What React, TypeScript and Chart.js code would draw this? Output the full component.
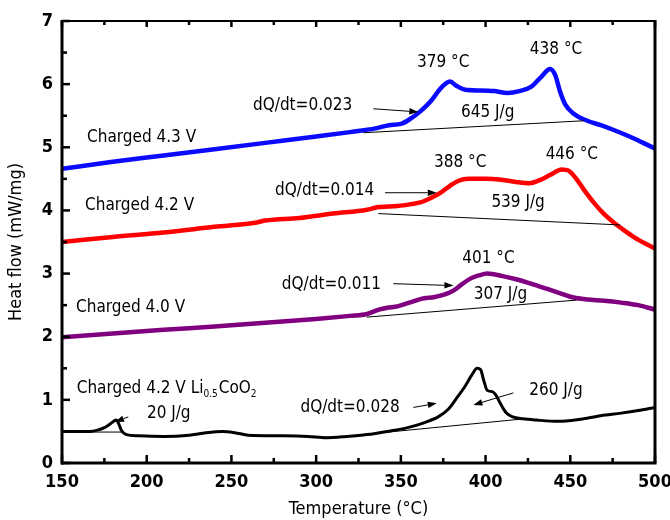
import React, { useEffect, useRef } from 'react';
import { Chart, registerables } from 'chart.js';
Chart.register(...registerables);

const FONT = "'DejaVu Sans Condensed', 'Liberation Sans Narrow', 'DejaVu Sans', sans-serif";

// ---- Data ----
const temp43 = [150, 180, 210, 240, 270, 300, 320, 335, 343, 350, 355, 362, 368, 373, 377, 379, 383, 388, 397, 405, 413, 420, 427, 433, 438, 441, 444, 447, 452, 460, 468, 476, 485, 493, 500];
const heat43 = [4.66, 4.77, 4.87, 4.97, 5.07, 5.17, 5.24, 5.30, 5.35, 5.37, 5.44, 5.58, 5.74, 5.92, 6.02, 6.04, 5.97, 5.91, 5.90, 5.89, 5.86, 5.89, 5.96, 6.12, 6.24, 6.15, 5.88, 5.68, 5.53, 5.42, 5.35, 5.27, 5.17, 5.07, 4.98];

const temp42 = [150, 180, 210, 240, 265, 270, 290, 310, 330, 336, 348, 356, 362, 368, 374, 379, 384, 390, 400, 408, 418, 426, 432, 438, 445, 449, 453, 458, 464, 470, 476, 482, 488, 494, 500];
const heat42 = [3.50, 3.58, 3.65, 3.74, 3.81, 3.84, 3.88, 3.95, 4.01, 4.05, 4.07, 4.10, 4.13, 4.20, 4.29, 4.39, 4.47, 4.50, 4.50, 4.49, 4.45, 4.43, 4.48, 4.56, 4.65, 4.63, 4.52, 4.33, 4.12, 3.94, 3.80, 3.68, 3.57, 3.48, 3.40];

const temp40 = [150, 180, 210, 240, 270, 300, 320, 330, 337, 342, 348, 355, 362, 370, 376, 381, 386, 391, 396, 401, 410, 418, 428, 436, 445, 452, 460, 470, 480, 490, 500];
const heat40 = [1.99, 2.05, 2.11, 2.16, 2.22, 2.28, 2.33, 2.36, 2.43, 2.46, 2.48, 2.54, 2.60, 2.63, 2.67, 2.73, 2.83, 2.92, 2.97, 3.00, 2.96, 2.91, 2.83, 2.76, 2.68, 2.62, 2.59, 2.57, 2.54, 2.50, 2.43];

const tempLi = [150, 160, 166, 171, 175, 179, 182, 183.5, 185, 188, 195, 210, 225, 235, 245, 252, 260, 280, 295, 306, 318, 330, 342, 354, 364, 372, 378, 383, 388, 392, 395, 397, 399, 401, 404, 406, 409, 412, 416, 422, 430, 443, 455, 468, 480, 490, 500];
const heatLi = [0.50, 0.50, 0.50, 0.52, 0.56, 0.63, 0.68, 0.62, 0.52, 0.45, 0.43, 0.42, 0.44, 0.48, 0.50, 0.48, 0.44, 0.43, 0.42, 0.40, 0.42, 0.45, 0.50, 0.56, 0.64, 0.73, 0.85, 1.03, 1.22, 1.40, 1.50, 1.48, 1.30, 1.15, 1.13, 1.08, 0.93, 0.80, 0.73, 0.70, 0.68, 0.66, 0.69, 0.75, 0.79, 0.83, 0.88];

// integration baselines: [T1, V1, T2, V2]
const baseline43 = [327.8, 5.23, 457.7, 5.42];
const baseline42 = [336.7, 3.95, 479.4, 3.77];
const baseline40 = [329.9, 2.31, 453.7, 2.58];
const baselineLiA = [165, 0.49, 186, 0.49];
const baselineLiB = [335, 0.47, 423, 0.70];

const xMajor = [150, 200, 250, 300, 350, 400, 450, 500];
const xMinor = [175, 225, 275, 325, 375, 425, 475];
const yMajor = [0, 1, 2, 3, 4, 5, 6, 7];
const yMinor = [0.5, 1.5, 2.5, 3.5, 4.5, 5.5, 6.5];

// annotation texts: [text, T, V, align]
const labels: [string, number, number, string][] = [
  ['379 °C', 375, 6.34, 'center'],
  ['438 °C', 441.6, 6.55, 'center'],
  ['dQ/dt=0.023', 292, 5.66, 'center'],
  ['645 J/g', 401.3, 5.55, 'center'],
  ['Charged 4.3 V', 164.8, 5.15, 'left'],
  ['388 °C', 385, 4.75, 'center'],
  ['446 °C', 450.9, 4.89, 'center'],
  ['dQ/dt=0.014', 305, 4.31, 'center'],
  ['539 J/g', 419.2, 4.13, 'center'],
  ['Charged 4.2 V', 163.6, 4.07, 'left'],
  ['401 °C', 401.7, 3.23, 'center'],
  ['dQ/dt=0.011', 309, 2.83, 'center'],
  ['307 J/g', 408.8, 2.66, 'center'],
  ['Charged 4.0 V', 158.3, 2.46, 'left'],
  ['20 J/g', 213, 0.78, 'center'],
  ['dQ/dt=0.028', 320, 0.88, 'center'],
  ['260 J/g', 441.5, 1.14, 'center'],
];
const liLabelPos = [158.7, 1.18];

// arrows: [T_from, V_from, T_to, V_to]
const arrows = [
  [333.8, 5.61, 360.3, 5.56],
  [340.7, 4.28, 371.2, 4.28],
  [345.6, 2.84, 381, 2.81],
  [189.1, 0.73, 181.3, 0.65],
  [357.4, 0.88, 371.2, 0.945],
  [416.4, 1.11, 392.8, 0.92],
];

const toXY = (t: number[], v: number[]) => t.map((x, i) => ({ x, y: v[i] }));
const seg = (b: number[]) => [{ x: b[0], y: b[1] }, { x: b[2], y: b[3] }];

const decor = {
  id: 'decor',
  afterDraw(chart: any) {
    const { ctx, chartArea, scales } = chart;
    const { left, right, top, bottom } = chartArea;
    const xs = scales.x, ys = scales.y;
    ctx.save();
    ctx.strokeStyle = '#000';
    ctx.lineCap = 'butt';
    ctx.lineWidth = 2.5;
    const tick = (x1: number, y1: number, x2: number, y2: number) => {
      ctx.beginPath(); ctx.moveTo(x1, y1); ctx.lineTo(x2, y2); ctx.stroke();
    };
    xMajor.forEach(t => { const p = xs.getPixelForValue(t); tick(p, bottom, p, bottom - 8); tick(p, top, p, top + 6); });
    xMinor.forEach(t => { const p = xs.getPixelForValue(t); tick(p, bottom, p, bottom - 5); tick(p, top, p, top + 4); });
    yMajor.forEach(v => { const p = ys.getPixelForValue(v); tick(left, p, left + 8, p); });
    yMinor.forEach(v => { const p = ys.getPixelForValue(v); tick(left, p, left + 5, p); });
    ctx.lineWidth = 2;
    ctx.strokeRect(left, top, right - left, bottom - top);
    ctx.lineWidth = 3;
    tick(left, top - 1, left, bottom + 1.5);
    tick(left - 1, bottom, right + 1.5, bottom);
    tick(right, top - 1, right, bottom);

    ctx.lineWidth = 1;
    ctx.fillStyle = '#000';
    arrows.forEach(a => {
      const x1 = xs.getPixelForValue(a[0]), y1 = ys.getPixelForValue(a[1]);
      const x2 = xs.getPixelForValue(a[2]), y2 = ys.getPixelForValue(a[3]);
      const ang = Math.atan2(y2 - y1, x2 - x1);
      const hl = 9, hw = 3.2;
      const bx = x2 - hl * Math.cos(ang), by = y2 - hl * Math.sin(ang);
      ctx.beginPath(); ctx.moveTo(x1, y1); ctx.lineTo(bx, by); ctx.stroke();
      ctx.beginPath();
      ctx.moveTo(x2, y2);
      ctx.lineTo(bx + hw * Math.sin(ang), by - hw * Math.cos(ang));
      ctx.lineTo(bx - hw * Math.sin(ang), by + hw * Math.cos(ang));
      ctx.closePath(); ctx.fill();
    });

    ctx.fillStyle = '#000';
    ctx.textBaseline = 'middle';
    ctx.font = `17px ${FONT}`;
    labels.forEach(([txt, t, v, al]) => {
      ctx.textAlign = al;
      ctx.fillText(txt, xs.getPixelForValue(t), ys.getPixelForValue(v));
    });
    let lx = xs.getPixelForValue(liLabelPos[0]);
    const ly = ys.getPixelForValue(liLabelPos[1]);
    ctx.textAlign = 'left';
    const parts: [string, boolean][] = [['Charged 4.2 V Li', false], ['0.5', true], ['CoO', false], ['2', true]];
    parts.forEach(([s, sub]) => {
      ctx.font = sub ? `10px ${FONT}` : `17px ${FONT}`;
      ctx.fillText(s, lx, sub ? ly + 6 : ly);
      lx += ctx.measureText(s).width + (sub ? 1 : 0);
    });
    ctx.restore();
  },
};

export default function App() {
  const ref = useRef<HTMLCanvasElement>(null);
  useEffect(() => {
    if (!ref.current) return;
    const lineDs = (label: string, data: any, color: string, width: number) => ({
      label, data, borderColor: color, backgroundColor: color, borderWidth: width,
      pointRadius: 0, cubicInterpolationMode: 'monotone', fill: false,
    });
    const baseDs = (data: any) => ({
      label: 'baseline', data, borderColor: '#000', borderWidth: 1, pointRadius: 0, tension: 0, fill: false,
    });
    const chart = new Chart(ref.current, {
      type: 'line',
      data: {
        datasets: [
          baseDs(seg(baseline43)),
          baseDs(seg(baseline42)),
          baseDs(seg(baseline40)),
          baseDs(seg(baselineLiA)),
          baseDs(seg(baselineLiB)),
          lineDs('Charged 4.3 V', toXY(temp43, heat43), '#0a0aff', 4.5),
          lineDs('Charged 4.2 V', toXY(temp42, heat42), '#ff0000', 4.5),
          lineDs('Charged 4.0 V', toXY(temp40, heat40), '#800080', 4.5),
          lineDs('Charged 4.2 V Li0.5CoO2', toXY(tempLi, heatLi), '#000000', 3),
        ] as any,
      },
      options: {
        animation: false,
        responsive: false,
        maintainAspectRatio: false,
        layout: { padding: { left: 6, right: 15, top: 21, bottom: 0 } },
        plugins: { legend: { display: false }, tooltip: { enabled: false } },
        scales: {
          x: {
            type: 'linear', min: 150, max: 500,
            grid: { display: false, drawTicks: false },
            border: { display: false },
            ticks: { stepSize: 50, padding: 9, color: '#000', font: { family: FONT, size: 18, weight: 'bold' } },
            title: { display: true, text: 'Temperature (°C)', color: '#000', font: { family: FONT, size: 18 }, padding: { top: 0, bottom: 0 } },
            afterFit: (s: any) => { s.height = 57; s.paddingRight = 0; s.paddingLeft = 0; },
          },
          y: {
            type: 'linear', min: 0, max: 7,
            grid: { display: false, drawTicks: false },
            border: { display: false },
            ticks: { stepSize: 1, padding: 9, color: '#000', font: { family: FONT, size: 18, weight: 'bold' } },
            title: { display: true, text: 'Heat flow (mW/mg)', color: '#000', font: { family: FONT, size: 18 }, padding: { top: 0, bottom: 0 } },
            afterFit: (s: any) => { s.width = 56; s.paddingTop = 0; s.paddingBottom = 0; },
          },
        },
      } as any,
      plugins: [decor],
    });
    return () => chart.destroy();
  }, []);
  return (
    <div style={{ position: 'absolute', left: 0, top: 0, width: 670, height: 520, background: '#fff' }}>
      <canvas ref={ref} width={670} height={520} style={{ width: 670, height: 520 }} />
    </div>
  );
}
